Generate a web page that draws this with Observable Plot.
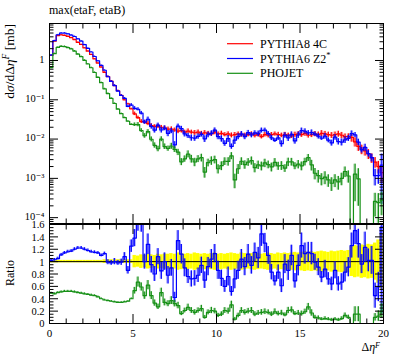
<!DOCTYPE html>
<html><head><meta charset="utf-8">
<script src="https://cdn.jsdelivr.net/npm/d3@7"></script>
<script src="https://cdn.jsdelivr.net/npm/@observablehq/plot@0.6"></script>
<style>
body{margin:0;background:#fff;}
#chart{position:relative;width:397px;height:358px;}
#chart svg{position:absolute;left:0;overflow:visible;}
</style></head><body><div id="chart"></div>
<script>
const FONT = "'Liberation Serif','DejaVu Serif',serif";
const titleText = "max(etaF, etaB)";
const seriesNames = ["PYTHIA8 4C", "PYTHIA6 Z2", "PHOJET"];
const seriesSup = ["", "*", ""];
const seriesColors = ["#ff0000", "#0000ff", "#169016"];
const BIN_WIDTH = 0.2;

// PYTHIA8 4C (reference) dσ/dΔη [mb], 100 bins of 0.2
const red = [1.34,3.1,4.3,4.5,4.35,4.1,3.8,3.4,2.9,2.55,2.1,1.73,1.42,1.10,0.86,0.68,0.50,0.39,0.30,0.23,0.17,0.13,0.10,0.079,0.059,0.044,0.035,0.028,0.027,0.025,0.022,0.021,0.021,
0.020,0.019,0.018,0.018,0.017,0.016,0.0165,0.015,0.016,0.015,0.0145,0.015,0.014,0.0145,0.014,0.0135,0.015,0.0135,0.014,0.013,0.0135,0.0125,0.013,0.0135,0.013,0.0125,0.013,0.0135,0.0125,0.013,0.0115,0.013,0.0125,0.013,0.0135,0.013,0.0125,0.013,0.0125,0.012,0.013,0.0135,0.013,0.014,0.0125,0.013,0.0135,0.013,0.014,0.0135,0.013,0.0125,0.013,0.0135,0.0125,0.0115,0.0115,0.011,0.0085,0.0065,0.0055,0.005,0.0042,0.0033,0.0026,0.002,0.0014];
const redRelErr = [0.02,0.02,0.02,0.02,0.02,0.02,0.02,0.02,0.02,0.02,0.02,0.02,0.02,0.02,0.02,0.02,
0.03,0.03,0.03,0.03,0.03,0.03,0.03,0.03,0.03,
0.10,0.09,0.11,0.10,0.12,0.11,0.10,0.12,0.11,0.12,
0.12,0.13,0.12,0.14,0.13,0.12,0.13,0.12,0.14,0.13,0.12,0.13,0.12,0.13,0.14,0.12,0.13,0.12,0.13,0.14,
0.13,0.12,0.14,0.13,0.12,0.13,0.14,0.13,0.12,0.13,0.14,0.13,0.12,0.14,0.13,0.14,0.13,0.14,0.15,0.14,
0.15,0.16,0.15,0.16,0.15,0.16,0.17,0.16,0.15,0.17,0.16,0.17,0.18,0.17,0.18,
0.24,0.26,0.25,0.27,0.26,0.28,0.27,0.30,0.35,0.45];

// PYTHIA6 Z2* / PYTHIA8 4C
const blueRatio = [1.02,1.03,1.05,1.11,1.14,1.16,1.17,1.20,1.22,1.22,1.20,1.18,1.16,1.15,1.14,1.10,1.13,
0.99,0.98,1.00,0.98,0.99,1.08,0.86,1.25,1.38,1.64,1.64,1.00,1.28,0.95,0.80,1.08,
0.85,1.00,0.78,0.90,0.42,1.34,1.12,0.90,0.76,0.72,0.73,0.78,0.94,0.70,0.92,1.04,1.13,0.86,0.73,0.60,0.76,0.52,0.72,0.86,1.04,0.92,1.12,0.94,1.15,1.06,1.45,1.30,
1.10,0.83,0.69,0.83,0.61,0.96,0.86,1.10,0.69,0.94,1.26,1.13,1.15,1.13,0.99,0.91,0.75,0.88,0.72,0.64,0.86,0.64,0.67,0.83,0.91,1.26,1.50,1.29,0.96,1.23,1.02,1.02,0.45,0.59,1.56];
const blueRelErr = [0.02,0.02,0.02,0.02,0.02,0.02,0.02,0.02,0.02,0.02,0.02,0.02,0.02,0.02,0.02,0.02,0.02,
0.04,0.04,0.05,0.04,0.05,0.06,0.07,0.08,
0.10,0.09,0.10,0.12,0.13,0.14,0.15,0.12,0.16,0.14,
0.18,0.15,0.20,0.12,0.14,0.16,0.15,0.18,0.17,0.15,
0.14,0.19,0.16,0.15,0.13,0.17,0.18,0.16,0.20,0.15,
0.22,0.17,0.15,0.16,0.14,0.15,0.13,0.16,0.14,0.12,
0.13,0.15,0.12,0.14,0.18,0.16,0.19,0.15,0.17,0.18,
0.16,0.15,0.14,0.16,0.13,0.15,0.12,0.16,0.14,0.17,
0.16,0.18,0.20,0.19,0.17,0.16,0.15,0.18,0.16,0.20,
0.18,0.22,0.45,0.40,0.90];

// PHOJET / PYTHIA8 4C
const greenRatio = [0.49,0.48,0.50,0.51,0.52,0.52,0.52,0.51,0.50,0.49,0.48,0.47,0.46,0.45,0.43,0.40,0.38,0.37,0.36,0.35,0.34,0.34,0.35,0.36,0.40,
0.53,0.67,0.59,0.45,0.62,0.45,0.33,0.27,
0.50,0.34,0.32,0.37,0.32,0.29,0.16,0.21,0.26,0.21,0.18,0.21,0.24,0.10,0.18,0.21,0.20,0.13,0.15,0.21,0.20,0.30,0.07,0.13,0.21,0.18,0.20,0.21,0.15,0.17,0.18,0.19,
0.18,0.15,0.19,0.16,0.17,0.14,0.21,0.22,0.16,0.17,0.16,0.19,0.27,0.17,0.10,0.09,0.07,0.08,0.07,0.06,0.07,0.06,0.08,0.13,0.10,
0,0.15,0.15,0,0,0,0,0.10,0.12,0.20];
const greenRelErr = [0.03,0.03,0.03,0.03,0.03,0.03,0.03,0.03,0.03,0.03,0.03,0.03,0.03,0.03,0.03,0.03,0.03,0.03,0.03,0.03,0.03,0.03,0.03,0.03,0.03,
0.10,0.12,0.11,0.13,0.12,0.14,0.15,0.16,0.14,0.16,0.15,0.17,0.16,0.18,0.20,0.18,
0.20,0.22,0.24,0.20,0.22,0.30,0.22,0.24,0.22,0.26,
0.25,0.22,0.24,0.20,0.40,0.28,0.22,0.24,0.22,0.23,
0.26,0.24,0.25,0.24,0.22,0.25,0.24,0.23,0.25,0.22,
0.24,0.22,0.20,0.24,0.25,0.22,0.20,0.30,0.32,0.35,
0.34,0.36,0.35,0.38,0.36,0.38,0.35,0.30,0.34,
0,0.8,0.8,0,0,0,0,0.6,0.7,0.6];

// ticks
const xMajor = [0,5,10,15,20];
const xLabels = ["0","5","10","15","20"];
const xMinor = d3.range(0,21).filter(v => v % 5 !== 0);
const yMainMajor = [1e-4,1e-3,1e-2,1e-1,1];
const yMainLabels = ["10\u207B\u2074","10\u207B\u00B3","10\u207B\u00B2","10\u207B\u00B9","1"];
const yMainDomain = [7.1e-5, 8.74];
const yMainMinor = [-5,-4,-3,-2,-1,0].flatMap(k => d3.range(2,10).map(m => m*Math.pow(10,k))).filter(v => v>yMainDomain[0] && v<yMainDomain[1]);
const yRatioMajor = [0,0.2,0.4,0.6,0.8,1,1.2,1.4,1.6];
const yRatioLabels = ["0","0.2","0.4","0.6","0.8","1","1.2","1.4","1.6"];
const yRatioMinor = d3.range(0,33).map(i => i*0.05).filter((v,i) => i % 4 !== 0);

const fmt = (ticks, labels) => d => { const i = ticks.findIndex(t => Math.abs(t-d) <= 1e-9*Math.max(Math.abs(t),1e-9)); return i<0 ? "" : labels[i]; };

function bins(vals, rel) {
  return vals.map((v,i) => ({x1: i*BIN_WIDTH, x2: (i+1)*BIN_WIDTH, xc: (i+0.5)*BIN_WIDTH, v, e: v*rel[i]}));
}
function seriesMarks(bs, color, floor) {
  const eb = bs.filter(b => b.e > 0);
  const lo = b => Math.max(b.v - b.e, floor), hi = b => Math.max(b.v + b.e, floor);
  const pts = bs.flatMap(b => [{x: b.x1, y: Math.max(b.v, floor)}, {x: b.x2, y: Math.max(b.v, floor)}]);
  return [
    Plot.rect(eb, {x1: b => b.x1 + 0.03, x2: b => b.x2 - 0.03, y1: lo, y2: hi, fill: color, fillOpacity: 0.42, clip: true}),
    Plot.ruleX(eb, {x: "xc", y1: lo, y2: hi, stroke: color, strokeWidth: 1, clip: true}),
    Plot.line(pts, {x: "x", y: "y", stroke: color, strokeWidth: 1.2, clip: true})
  ];
}
function frameTicks(xMaj, xMin, yMaj, yMin) {
  const m = [];
  const o = {fill: "none", label: null};
  for (const a of ["top","bottom"]) {
    m.push(Plot.axisX({...o, anchor: a, ticks: xMaj, tickSize: -9}));
    m.push(Plot.axisX({...o, anchor: a, ticks: xMin, tickSize: -4.5}));
  }
  for (const a of ["left","right"]) {
    m.push(Plot.axisY({...o, anchor: a, ticks: yMaj, tickSize: -9}));
    m.push(Plot.axisY({...o, anchor: a, ticks: yMin, tickSize: -4.5}));
  }
  return m;
}

const blueMain = red.map((r,i) => r*blueRatio[i]);
const greenMain = red.map((r,i) => r*greenRatio[i]);
const ones = red.map(() => 1);

const common = {width: 397, marginLeft: 49, marginRight: 14,
  style: {background: "none", fontFamily: FONT, fontSize: "11px", color: "#000", overflow: "visible"}};

const mainPlot = Plot.plot({
  ...common, height: 224, marginTop: 23, marginBottom: 1,
  x: {domain: [0,20], axis: null, label: null},
  y: {type: "log", domain: yMainDomain, axis: null, label: null},
  marks: [
    ...seriesMarks(bins(red, redRelErr), seriesColors[0], 1e-7),
    ...seriesMarks(bins(blueMain, blueRelErr), seriesColors[1], 1e-7),
    ...seriesMarks(bins(greenMain, greenRelErr), seriesColors[2], 1e-7),
    Plot.frame({stroke: "#000", strokeWidth: 1}),
    ...frameTicks(xMajor, xMinor, yMainMajor, yMainMinor),
    Plot.axisY({anchor: "left", ticks: yMainMajor, tickSize: 0, tickPadding: 5, dy: -1, tickFormat: fmt(yMainMajor, yMainLabels), label: null, fontSize: 10.5})
  ]
});

const ratioPlot = Plot.plot({
  ...common, height: 138, marginTop: 4, marginBottom: 35,
  x: {domain: [0,20], axis: null, label: null},
  y: {domain: [0,1.6], axis: null, label: null},
  marks: [
    Plot.rect(bins(ones, redRelErr), {x1: "x1", x2: "x2", y1: b => 1 - b.e, y2: b => 1 + b.e, fill: "#ffff00", clip: true}),
    Plot.ruleY([1], {stroke: "#000", strokeWidth: 1}),
    ...seriesMarks(bins(blueRatio, blueRelErr), seriesColors[1], -1),
    ...seriesMarks(bins(greenRatio, greenRelErr), seriesColors[2], -1),
    Plot.frame({stroke: "#000", strokeWidth: 1}),
    ...frameTicks(xMajor, xMinor, yRatioMajor, yRatioMinor),
    Plot.axisY({anchor: "left", ticks: yRatioMajor, tickSize: 0, tickPadding: 5, dy: 0.5, tickFormat: fmt(yRatioMajor, yRatioLabels), label: null, fontSize: 10.5}),
    Plot.axisX({anchor: "bottom", ticks: xMajor, tickSize: 0, tickPadding: 6, tickFormat: fmt(xMajor, xLabels), label: null, fontSize: 11})
  ]
});

const chart = document.getElementById("chart");
mainPlot.style.top = "0px";
ratioPlot.style.top = "220px";
chart.append(mainPlot, ratioPlot);

// title, axis labels, legend as real text
const sm = d3.select(mainPlot), sr = d3.select(ratioPlot);
sm.append("text").attr("x", 49).attr("y", 13.5).attr("text-anchor", "start").attr("font-family", FONT).attr("font-size", 12).attr("fill", "#000").text(titleText);

const yl = sm.append("text").attr("transform", "translate(14,24) rotate(-90)").attr("text-anchor", "end")
  .attr("font-family", FONT).attr("font-size", 13.5).attr("fill", "#000");
yl.append("tspan").text("d");
yl.append("tspan").attr("font-style", "italic").text("σ");
yl.append("tspan").text("/d");
yl.append("tspan").text("Δ");
yl.append("tspan").attr("font-style", "italic").text("η");
yl.append("tspan").attr("font-style", "italic").attr("font-size", 9.5).attr("dy", -5).text("F");
yl.append("tspan").attr("dy", 5).text(" [mb]");

sr.append("text").attr("transform", "translate(14,53) rotate(-90)").attr("text-anchor", "middle")
  .attr("font-family", FONT).attr("font-size", 12).attr("fill", "#000").text("Ratio");

const xl = sr.append("text").attr("x", 380).attr("y", 131).attr("text-anchor", "end")
  .attr("font-family", FONT).attr("font-size", 12).attr("fill", "#000");
xl.append("tspan").text("Δ");
xl.append("tspan").attr("font-style", "italic").text("η");
xl.append("tspan").attr("font-style", "italic").attr("font-size", 8).attr("dy", -3.5).text("F");

const lg = sm.append("g").attr("font-family", FONT).attr("font-size", 12);
seriesNames.forEach((name, i) => {
  const y = 43.7 + 14.8*i;
  lg.append("line").attr("x1", 227).attr("x2", 253).attr("y1", y).attr("y2", y).attr("stroke", seriesColors[i]).attr("stroke-width", 1.2);
  const t = lg.append("text").attr("x", 260).attr("y", y + 4).attr("text-anchor", "start").attr("fill", "#000");
  t.append("tspan").text(name);
  if (seriesSup[i]) t.append("tspan").attr("font-size", 8.5).attr("dy", -4.5).text(seriesSup[i]);
});
</script></body></html>
